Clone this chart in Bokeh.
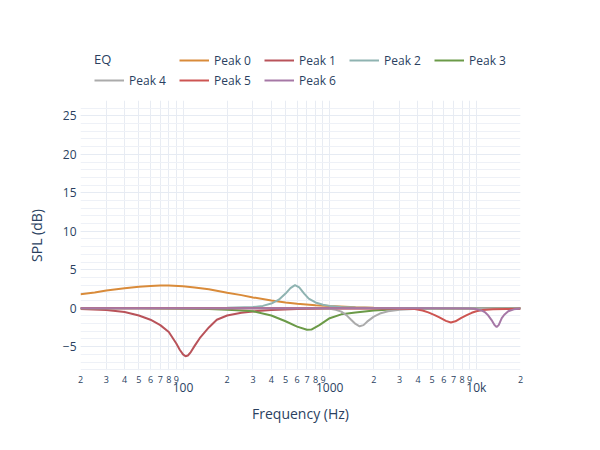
from bokeh.plotting import figure
from bokeh.models import Legend, LegendItem, LogAxis, FixedTicker, Range1d
from bokeh.layouts import column
from bokeh.embed import file_html
from bokeh.resources import INLINE

FONT = "Open Sans"
TXT = "#2a3f5f"

# ---------------- data ----------------
series_names = ["Peak 0", "Peak 1", "Peak 2", "Peak 3", "Peak 4", "Peak 5", "Peak 6"]
series_colors = ["#d98b3a", "#b9535a", "#8fb3b1", "#6b9a48", "#ababab", "#cd5552", "#a678a6"]

peak0_f = [20, 25, 30, 40, 50, 60, 70, 80, 100, 120, 150, 200, 250, 300, 400, 500, 600, 800, 1000, 1500, 2000, 3000, 5000, 10000, 20000]
peak0_db = [1.8, 2.05, 2.3, 2.6, 2.8, 2.9, 2.95, 2.95, 2.85, 2.7, 2.45, 2.0, 1.7, 1.4, 1.0, 0.75, 0.58, 0.38, 0.27, 0.13, 0.07, 0.03, 0.01, 0.0, 0.0]

peak1_f = [20, 30, 40, 50, 60, 70, 80, 90, 95, 100, 104, 108, 113, 120, 130, 150, 170, 200, 250, 300, 400, 600, 1000, 2000, 20000]
peak1_db = [-0.1, -0.25, -0.5, -0.95, -1.5, -2.2, -3.1, -4.6, -5.4, -6.0, -6.25, -6.15, -5.7, -4.9, -3.9, -2.5, -1.5, -0.95, -0.6, -0.42, -0.25, -0.12, -0.05, -0.02, 0.0]

peak2_f = [20, 100, 200, 300, 350, 400, 450, 500, 540, 580, 620, 670, 720, 800, 900, 1000, 1200, 1500, 2000, 20000]
peak2_db = [0.0, 0.01, 0.05, 0.15, 0.3, 0.6, 1.1, 1.9, 2.6, 3.0, 2.7, 1.9, 1.25, 0.75, 0.45, 0.3, 0.17, 0.08, 0.03, 0.0]

peak3_f = [20, 50, 100, 150, 200, 250, 300, 400, 500, 600, 700, 750, 850, 1000, 1200, 1500, 2000, 3000, 5000, 20000]
peak3_db = [0.0, -0.02, -0.06, -0.12, -0.2, -0.3, -0.4, -0.95, -1.7, -2.4, -2.8, -2.78, -2.2, -1.3, -0.8, -0.55, -0.3, -0.12, -0.04, 0.0]

peak4_f = [20, 500, 800, 1000, 1100, 1200, 1300, 1400, 1500, 1600, 1700, 1800, 2000, 2200, 2500, 3000, 4000, 6000, 20000]
peak4_db = [0.0, 0.0, -0.02, -0.08, -0.2, -0.45, -0.9, -1.5, -2.05, -2.35, -2.2, -1.75, -1.1, -0.7, -0.4, -0.2, -0.06, -0.01, 0.0]

peak5_f = [20, 1000, 2000, 3000, 3800, 4300, 4700, 5200, 5600, 6200, 6700, 7200, 7900, 8600, 9300, 10000, 11000, 13000, 16000, 20000]
peak5_db = [0.0, -0.01, -0.03, -0.06, -0.12, -0.3, -0.55, -0.9, -1.2, -1.65, -1.85, -1.7, -1.25, -0.9, -0.6, -0.4, -0.25, -0.15, -0.1, -0.06]

peak6_f = [20, 5000, 9000, 10000, 11000, 11500, 12000, 12700, 13300, 13750, 14200, 14900, 15500, 16500, 18000, 20000]
peak6_db = [0.0, 0.0, -0.05, -0.12, -0.35, -0.55, -0.9, -1.55, -2.2, -2.45, -2.2, -1.3, -0.85, -0.4, -0.15, -0.05]

series_f = [peak0_f, peak1_f, peak2_f, peak3_f, peak4_f, peak5_f, peak6_f]
series_db = [peak0_db, peak1_db, peak2_db, peak3_db, peak4_db, peak5_db, peak6_db]

legend_title = "EQ"

# axis ticks / labels
x_minor_ticks = [20, 30, 40, 50, 60, 70, 80, 90,
                 200, 300, 400, 500, 600, 700, 800, 900,
                 2000, 3000, 4000, 5000, 6000, 7000, 8000, 9000, 20000]
x_minor_labels = ["2", "3", "4", "5", "6", "7", "8", "9",
                  "2", "3", "4", "5", "6", "7", "8", "9",
                  "2", "3", "4", "5", "6", "7", "8", "9", "2"]
x_decade_ticks = [100, 1000, 10000]
x_decade_labels = ["100", "1000", "10k"]
y_ticks = [-5, 0, 5, 10, 15, 20, 25]
y_minor = list(range(-8, 28))

LEG_H = 95
FRAME_LEFT = 80

# ---------------- main figure ----------------
p = figure(frame_width=440, frame_height=270,
           x_axis_type="log",
           x_range=Range1d(20, 20000), y_range=Range1d(-8.1, 27.0),
           output_backend="svg", toolbar_location=None,
           min_border_left=FRAME_LEFT, min_border_right=64,
           min_border_top=100 - LEG_H, min_border_bottom=64)
p.outline_line_color = None
p.background_fill_color = "white"

# grids
p.xgrid.ticker = FixedTicker(ticks=sorted(x_minor_ticks + x_decade_ticks))
p.xgrid.grid_line_color = "#e8ecf3"
p.ygrid.ticker = FixedTicker(ticks=y_ticks, minor_ticks=y_minor)
p.ygrid.grid_line_color = "#e6ebf3"
p.ygrid.minor_grid_line_color = "#eef1f7"

# y axis
ya = p.yaxis[0]
ya.ticker = FixedTicker(ticks=y_ticks, minor_ticks=y_minor)
ya.axis_line_color = None
ya.major_tick_line_color = None
ya.minor_tick_line_color = None
ya.major_tick_out = 0
ya.major_tick_in = 0
ya.minor_tick_out = 0
ya.minor_tick_in = 0
ya.major_label_standoff = 4
ya.major_label_text_font = FONT
ya.major_label_text_font_size = "12px"
ya.major_label_text_color = TXT
ya.axis_label = "SPL (dB)"
ya.axis_label_text_font = FONT
ya.axis_label_text_font_size = "14px"
ya.axis_label_text_font_style = "normal"
ya.axis_label_text_color = TXT
ya.axis_label_standoff = 14

# x axis 1 : small digit labels
xa = p.xaxis[0]
xa.ticker = FixedTicker(ticks=x_minor_ticks, minor_ticks=[])
xa.major_label_overrides = {t: l for t, l in zip(x_minor_ticks, x_minor_labels)}
xa.axis_line_color = None
xa.major_tick_line_color = None
xa.minor_tick_line_color = None
xa.major_tick_out = 0
xa.major_tick_in = 0
xa.minor_tick_out = 0
xa.minor_tick_in = 0
xa.major_label_standoff = 5
xa.major_label_text_font = FONT
xa.major_label_text_font_size = "9px"
xa.major_label_text_color = TXT

# x axis 2 : decade labels + title
xa2 = LogAxis(ticker=FixedTicker(ticks=x_decade_ticks, minor_ticks=[]))
xa2.major_label_overrides = {t: l for t, l in zip(x_decade_ticks, x_decade_labels)}
xa2.axis_line_color = None
xa2.major_tick_line_color = None
xa2.minor_tick_line_color = None
xa2.major_tick_out = 0
xa2.major_tick_in = 0
xa2.minor_tick_out = 0
xa2.minor_tick_in = 0
xa2.major_label_standoff = -7
xa2.major_label_text_font = FONT
xa2.major_label_text_font_size = "12px"
xa2.major_label_text_color = TXT
xa2.axis_label = "Frequency (Hz)"
xa2.axis_label_text_font = FONT
xa2.axis_label_text_font_size = "14px"
xa2.axis_label_text_font_style = "normal"
xa2.axis_label_text_color = TXT
xa2.axis_label_standoff = 5
p.add_layout(xa2, "below")

for f, db, c in zip(series_f, series_db, series_colors):
    p.line(f, db, line_color=c, line_width=2)

# ---------------- legend strip (above the plot) ----------------
# its own copies of the series, kept out of view (ranges 0..1), used only as legend glyphs
lf = figure(width=600, height=LEG_H, output_backend="svg", toolbar_location=None,
            x_axis_location=None, y_axis_location=None,
            x_range=Range1d(0, 1), y_range=Range1d(1000, 1001),
            min_border=0)
lf.outline_line_color = None
lf.xgrid.visible = False
lf.ygrid.visible = False

leg_renderers = [lf.line(f, db, line_color=c, line_width=2)
                 for f, db, c in zip(series_f, series_db, series_colors)]
items = [LegendItem(label=n, renderers=[r]) for n, r in zip(series_names, leg_renderers)]


def style_legend(lg):
    lg.orientation = "horizontal"
    lg.border_line_color = None
    lg.background_fill_alpha = 0
    lg.padding = 0
    lg.margin = 0
    lg.spacing = 6
    lg.glyph_width = 30
    lg.glyph_height = 20
    lg.label_height = 20
    lg.label_width = 44
    lg.label_standoff = 5
    lg.label_text_font = FONT
    lg.label_text_font_size = "12px"
    lg.label_text_color = TXT


# the column aligns this strip's frame with the main frame (left edge at FRAME_LEFT)
leg1 = Legend(items=items[:4], location=(179 - FRAME_LEFT, LEG_H - 70))
style_legend(leg1)
leg2 = Legend(items=items[4:], location=(94 - FRAME_LEFT, LEG_H - 90), title=legend_title)
style_legend(leg2)
leg2.title_text_font = FONT
leg2.title_text_font_size = "13px"
leg2.title_text_font_style = "normal"
leg2.title_text_color = TXT
leg2.title_standoff = 2
lf.add_layout(leg1)
lf.add_layout(leg2)

layout = column(lf, p, spacing=0)
open("out.html", "w").write(file_html(layout, INLINE))
